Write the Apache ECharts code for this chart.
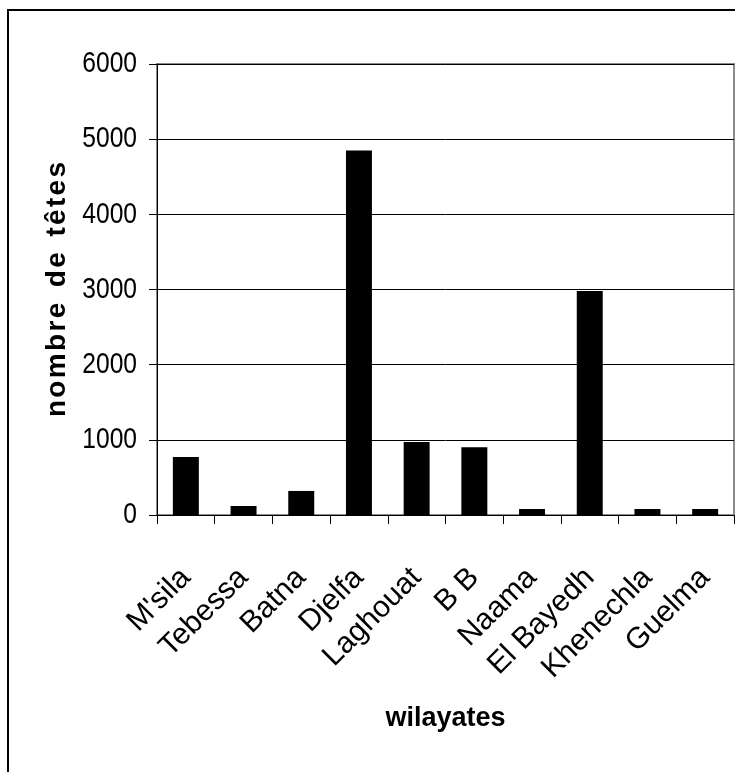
<!DOCTYPE html>
<html>
<head>
<meta charset="utf-8">
<script src="https://cdn.jsdelivr.net/npm/echarts@6/dist/echarts.min.js"></script>
<style>
  html, body { margin: 0; padding: 0; background: #fff; }
  #chart { width: 735px; height: 772px; }
</style>
</head>
<body>
<div id="chart"></div>
<script>
// Cheptel par wilaya (nombre de têtes)
const wilayates = ["M'sila", "Tebessa", "Batna", "Djelfa", "Laghouat", "B B", "Naama", "El Bayedh", "Khenechla", "Guelma"];
const tetes = [770, 120, 320, 4850, 970, 900, 80, 2980, 80, 80];
const yTickValues = [0, 1000, 2000, 3000, 4000, 5000, 6000];

const fontFam = '"Liberation Sans", Arial, sans-serif';
const HAIR = '\u200A';
// slightly spaced-out axis title
const yTitle = ['nombre', 'de', 'têtes'].map(w => w.split('').join(HAIR)).join('  ');

const chart = echarts.init(document.getElementById('chart'), null, { renderer: 'canvas' });
chart.setOption({
  animation: false,
  backgroundColor: '#fff',
  graphic: [{
    id: 'frame',
    type: 'rect',
    shape: { x: 8, y: 10, width: 900, height: 900 },
    style: { fill: 'none', stroke: '#000', lineWidth: 2 },
    silent: true
  }],
  grid: { left: 157, top: 64, right: 1, bottom: 257, show: true, borderColor: '#8c8c8c', borderWidth: 2 },
  xAxis: {
    type: 'category',
    data: wilayates,
    name: 'wilayates',
    nameLocation: 'middle',
    nameGap: 190,
    nameTextStyle: { fontFamily: fontFam, fontWeight: 'bold', fontSize: 27, color: '#000' },
    axisLine: { lineStyle: { color: '#000', width: 1 } },
    axisTick: { show: true, length: 9, alignWithLabel: false, lineStyle: { color: '#000' } },
    axisLabel: { rotate: 45, fontFamily: fontFam, fontSize: 30, color: '#000', margin: 58, interval: 0 },
    splitLine: { show: false }
  },
  yAxis: {
    type: 'value',
    min: yTickValues[0], max: yTickValues[yTickValues.length - 1], interval: 1000,
    name: yTitle,
    nameLocation: 'middle',
    nameGap: 86,
    nameRotate: 90,
    nameTextStyle: { fontFamily: fontFam, fontWeight: 'bold', fontSize: 28, color: '#000' },
    axisLine: { show: true, lineStyle: { color: '#000', width: 1 } },
    axisTick: { show: true, length: 8, lineStyle: { color: '#000' } },
    axisLabel: { show: false },
    splitLine: { show: true, lineStyle: { color: '#000', width: 1 } }
  },
  series: [{
    type: 'bar',
    data: tetes,
    barWidth: '45%',
    itemStyle: { color: '#000' }
  }]
});

// Value-axis labels in a condensed face, placed on the axis scale
const c0 = chart.convertToPixel({ xAxisIndex: 0 }, wilayates[0]);
const c1 = chart.convertToPixel({ xAxisIndex: 0 }, wilayates[1]);
const axisX = c0 - (c1 - c0) / 2;
const tickLabels = yTickValues.map((v, i) => ({
  id: 'ylab' + i,
  type: 'text',
  x: axisX - 20,
  y: chart.convertToPixel({ yAxisIndex: 0 }, v),
  scaleX: 0.82,
  silent: true,
  style: {
    text: String(v),
    font: '30px ' + fontFam,
    fill: '#000',
    align: 'right', textAlign: 'right',
    verticalAlign: 'middle', textVerticalAlign: 'middle'
  }
}));
chart.setOption({ graphic: tickLabels });
</script>
</body>
</html>
